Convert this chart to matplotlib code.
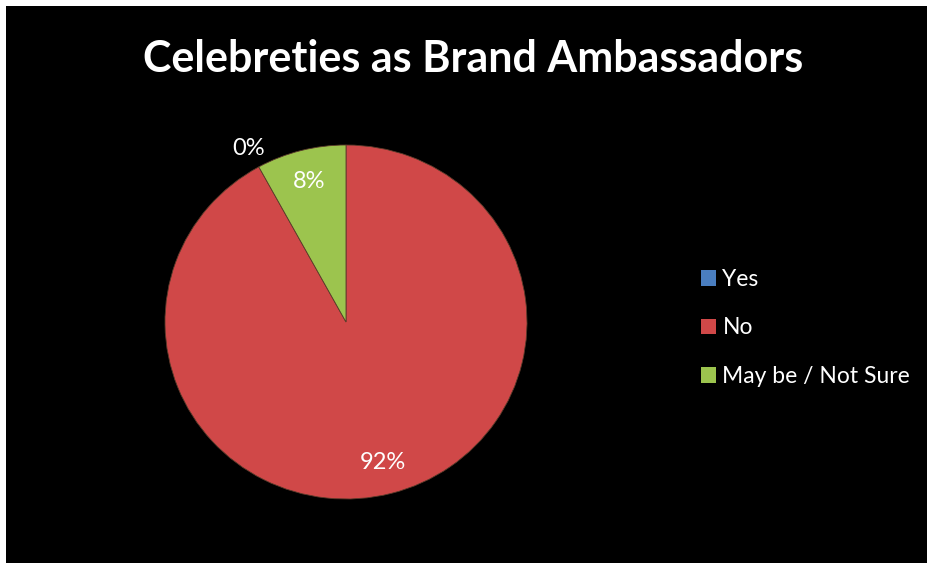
import math
import matplotlib
matplotlib.use("Agg")
import matplotlib.pyplot as plt
from matplotlib.patches import Rectangle

# Ответы на опрос (в процентах)
categories = ["Yes", "No", "May be / Not Sure"]
shares = [0, 92, 8]
colors = ["#4A7EC0", "#D04848", "#9CC44E"]
title = "Celebreties as Brand Ambassadors"

plt.rcParams["font.family"] = ["Lato", "DejaVu Sans"]

W, H = 928, 563
fig = plt.figure(figsize=(W / 100, H / 100), dpi=100, facecolor="white")

# Чёрный фон слайда с узкой белой полосой сверху и слева
fig.patches.append(Rectangle((6 / W, 0), 1 - 6 / W, 1 - 6 / H,
                             transform=fig.transFigure, facecolor="black",
                             edgecolor="none", zorder=-10))

# Оси под круг: центр (346, 322), радиусы 181 x 177 пикселей
cx, cy, rx, ry = 346, 322, 181, 177
ax = fig.add_axes([(cx - rx) / W, (H - cy - ry) / H, 2 * rx / W, 2 * ry / H])
ax.set_facecolor("none")
ax.set_zorder(5)

# Сектор «No» начинается там, где кончается «May be / Not Sure»
start = 90 + shares[2] / sum(shares) * 360
wedges, _, autotexts = ax.pie(
    shares,
    colors=colors,
    startangle=start,
    counterclock=True,
    autopct="%d%%",
    pctdistance=0.82,
    textprops={"color": "white", "fontsize": 17},
    wedgeprops={"linewidth": 0.6, "edgecolor": "#5a3a2a"},
)
ax.set_aspect("auto")
ax.set_xlim(-1, 1)
ax.set_ylim(-1, 1)

# Подпись нулевого сектора выносим за пределы круга
ang = math.radians(wedges[0].theta1)
autotexts[0].set_position((1.12 * math.cos(ang), 1.12 * math.sin(ang)))

fig.text(0.51, 1 - 59 / H, title, color="white", fontsize=31,
         fontweight="bold", ha="center", va="center", zorder=6)

leg = fig.legend(wedges, categories, loc="center left",
                 bbox_to_anchor=(680 / W, 1 - 328 / H), frameon=False,
                 fontsize=16.5, labelcolor="white", handlelength=0.65,
                 handleheight=0.65, handletextpad=0.3, labelspacing=1.2)
leg.set_zorder(6)
for h in leg.legend_handles:
    h.set_edgecolor("none")

fig.savefig("out.png", dpi=100, facecolor="white")
